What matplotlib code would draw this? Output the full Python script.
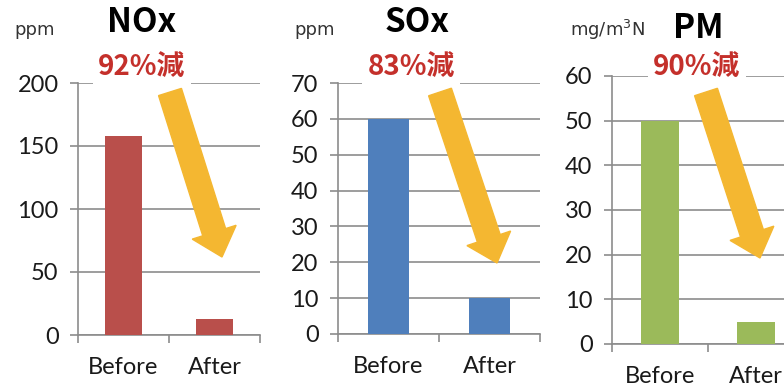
import numpy as np
import matplotlib.pyplot as plt
from matplotlib.patches import FancyArrow
from matplotlib.transforms import Affine2D

W, H = 784, 388

categories = ['Before', 'After']
nox = [158, 13]
sox = [60, 10]
pm = [50, 5]
units = ['ppm', 'ppm', 'mg/m$^3$N']
titles = ['NOx', 'SOx', 'PM']
cuts = ['92%減', '83%減', '90%減']
colors = ['#B94F4B', '#4F7FBC', '#9BBA5A']
ymax = [200, 70, 60]
ystep = [50, 10, 10]

fig = plt.figure(figsize=(W / 100, H / 100), dpi=100)
# pixel coordinates measured from the top-left corner
px = Affine2D().scale(1 / W, -1 / H).translate(0, 1) + fig.transFigure

# left, top, right, bottom of each plot area in pixels
boxes = [(78, 83, 260, 335), (338, 83, 540, 334), (612, 76, 804, 344)]
unit_pos = [(35, 30), (315, 30), (607, 30)]
title_pos = [(142, 23), (417, 23), (698, 29)]
cut_pos = [(142, 67), (411, 67), (697, 67)]
arrows = [((170, 92), (222, 257)), ((440, 92), (497, 263)), ((706, 92), (760, 258))]

for i, vals in enumerate([nox, sox, pm]):
    l, t, r, b = boxes[i]
    ax = fig.add_axes([l / W, (H - b) / H, (r - l) / W, (b - t) / H])
    x = np.arange(len(categories))
    ax.bar(x, vals, width=0.4, color=colors[i], zorder=3)
    ax.set_xlim(-0.5, 1.5)
    ax.set_ylim(0, ymax[i])
    ax.set_yticks(np.arange(0, ymax[i] + 1, ystep[i]))
    ax.set_xticks([-0.5, 0.5, 1.5])
    ax.set_xticklabels([])
    ax.set_xticks(x, minor=True)
    ax.set_xticklabels(categories, minor=True)
    ax.tick_params(axis='x', which='minor', length=0, pad=16)
    ax.tick_params(axis='x', which='major', length=6, color='#8c8c8c', width=1.2)
    ax.tick_params(axis='y', length=6, color='#8c8c8c', width=1.2, pad=8)
    for lab in ax.get_yticklabels() + ax.get_xticklabels(minor=True):
        lab.set_fontfamily('Lato')
        lab.set_fontsize(17)
        lab.set_color('#1a1a1a')
    ax.grid(axis='y', color='#8c8c8c', linewidth=1.2, zorder=0)
    ax.set_axisbelow(True)
    for s in ['top', 'right']:
        ax.spines[s].set_visible(False)
    for s in ['left', 'bottom']:
        ax.spines[s].set_color('#8c8c8c')
        ax.spines[s].set_linewidth(1.2)

    fig.text(*unit_pos[i], units[i], transform=px, ha='center', va='center',
             fontsize=13, family='DejaVu Sans', color='#333333')
    fig.text(*title_pos[i], titles[i], transform=px, ha='center', va='center',
             fontsize=24, weight='bold', family=['Noto Sans CJK JP', 'DejaVu Sans'])
    fig.text(*cut_pos[i], cuts[i], transform=px, ha='center', va='center',
             fontsize=20, weight='bold', color='#C4302B',
             family=['Noto Sans CJK JP', 'DejaVu Sans'],
             bbox=dict(facecolor='white', edgecolor='none', pad=4))

    (x0, y0), (x1, y1) = arrows[i]
    fig.patches.append(FancyArrow(x0, y0, x1 - x0, y1 - y0, width=24,
                                  head_width=46, head_length=26,
                                  length_includes_head=True,
                                  color='#F4B731', transform=px, zorder=5))

fig.savefig('out.png', dpi=100)
